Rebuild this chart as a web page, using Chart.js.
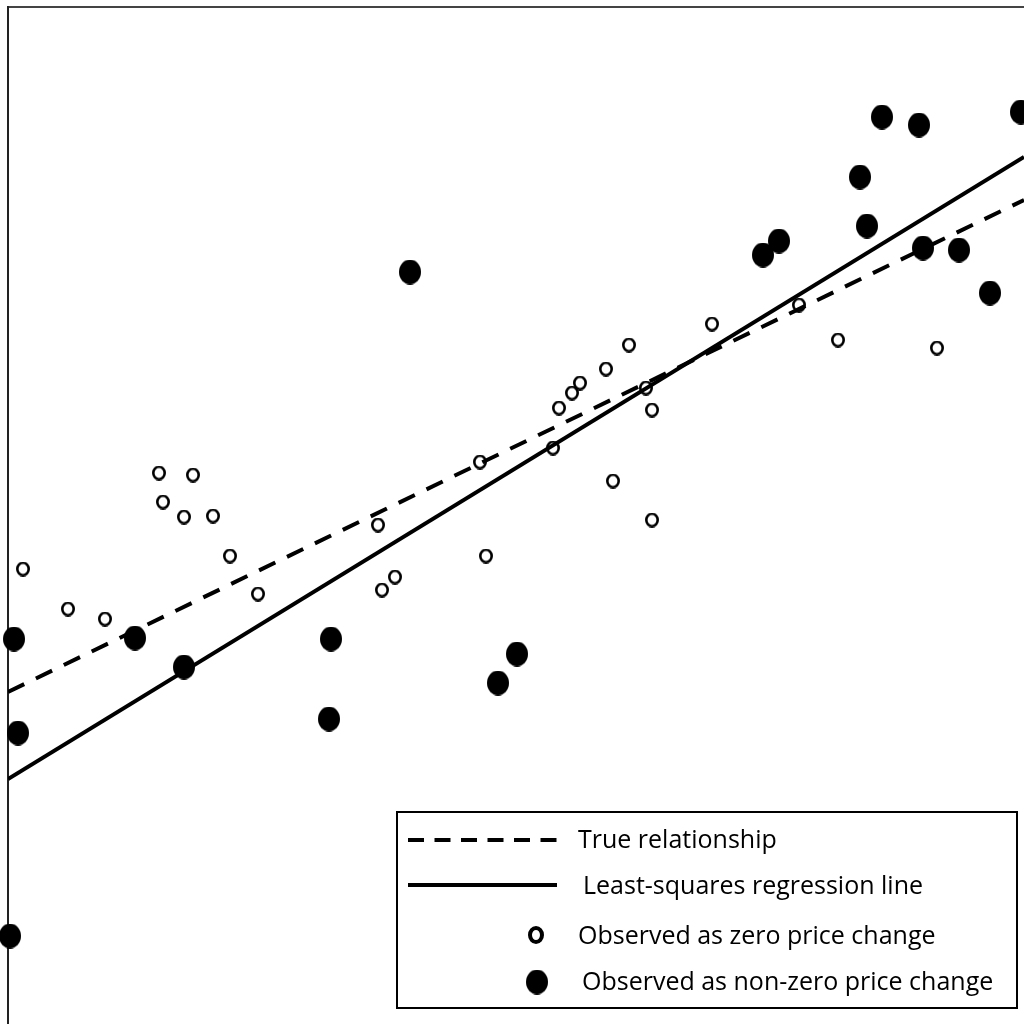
<!DOCTYPE html>
<html>
<head>
<meta charset="utf-8">
<script src="https://cdn.jsdelivr.net/npm/chart.js@4"></script>
<style>
  html, body { margin: 0; padding: 0; background: #fff; overflow: hidden; }
  canvas { display: block; }
</style>
</head>
<body>
<canvas id="chart" width="1024" height="1024"></canvas>
<script>
// Observed as zero price change (open circles)
const zeroX = [1.5, 6.0, 9.7, 22.2, 25.0, 15.1, 18.5, 15.5, 17.6, 20.5, 37.0, 37.4, 38.7, 47.2, 54.5,
  55.1, 56.4, 57.2, 59.8, 62.1, 63.8, 64.4, 60.5, 64.4, 47.8, 70.4, 79.1, 83.0, 92.9];
const zeroY = [45.5, 41.5, 40.5, 46.8, 43.0, 55.1, 54.9, 52.2, 50.7, 50.8, 49.9, 43.4, 44.7, 56.2, 57.6,
  61.6, 63.1, 64.1, 65.5, 67.9, 63.6, 61.4, 54.3, 50.4, 46.8, 70.0, 71.9, 68.4, 67.6];

// Observed as non-zero price change (filled circles)
const nonZeroX = [0.6, 1.0, 12.7, 17.6, 0.2, 32.3, 32.1, 50.9, 49.0, 40.2, 75.5, 77.1, 85.2, 85.9,
  87.4, 91.1, 91.5, 95.1, 98.2, 101.3];
const nonZeroY = [38.5, 29.1, 38.6, 35.7, 8.8, 38.5, 30.5, 37.0, 34.1, 75.2, 76.9, 78.3, 84.7, 79.8,
  90.7, 89.9, 77.6, 77.4, 73.1, 91.2];

// end points of the two lines
const lineX = [0, 101.6];
const trueY = [33.2, 82.4];
const fitY = [24.5, 86.7];

const seriesLabels = ['True relationship', 'Least-squares regression line',
  'Observed as zero price change', 'Observed as non-zero price change'];

function toPoints(xs, ys) {
  return xs.map((x, i) => ({ x: x, y: ys[i] }));
}

// small canvases used as point styles (the markers are slightly taller than wide)
function dotMarker(w, h) {
  const c = document.createElement('canvas');
  c.width = w; c.height = h;
  const g = c.getContext('2d');
  g.fillStyle = '#000';
  g.beginPath();
  g.ellipse(w / 2, h / 2, w / 2, h / 2, 0, 0, Math.PI * 2);
  g.fill();
  return c;
}

function ringMarker(w, h, lw) {
  const c = document.createElement('canvas');
  c.width = w; c.height = h;
  const g = c.getContext('2d');
  g.strokeStyle = '#000';
  g.fillStyle = '#fff';
  g.lineWidth = lw;
  g.beginPath();
  g.ellipse(w / 2, h / 2, (w - lw) / 2, (h - lw) / 2, 0, 0, Math.PI * 2);
  g.fill();
  g.stroke();
  return c;
}

const openDot = ringMarker(14, 15, 2.6);
const fullDot = dotMarker(22, 25);

// legend drawn inside a box in the lower right corner
const boxLegend = {
  id: 'boxLegend',
  afterDraw(chart) {
    const ctx = chart.ctx;
    const ds = chart.data.datasets;
    ctx.save();
    ctx.fillStyle = '#fff';
    ctx.fillRect(397, 812, 620, 196);
    ctx.strokeStyle = '#000';
    ctx.lineWidth = 2;
    ctx.strokeRect(397, 812, 620, 196);

    // line samples
    ctx.lineWidth = 4;
    ctx.setLineDash([16, 10.5]);
    ctx.beginPath();
    ctx.moveTo(408, 840);
    ctx.lineTo(557, 840);
    ctx.stroke();
    ctx.setLineDash([]);
    ctx.beginPath();
    ctx.moveTo(408, 885);
    ctx.lineTo(557, 885);
    ctx.stroke();

    // marker samples
    const ring = ringMarker(16, 18, 4);
    ctx.drawImage(ring, 536 - 8, 935 - 9);
    ctx.drawImage(fullDot, 537 - 11, 982 - 12.5);

    ctx.fillStyle = '#000';
    ctx.font = '25px "Open Sans"';
    ctx.textBaseline = 'middle';
    ctx.fillText(ds[0].label, 578, 841);
    ctx.fillText(ds[1].label, 583, 887);
    ctx.fillText(ds[2].label, 578, 937);
    ctx.fillText(ds[3].label, 582, 983);
    ctx.restore();
  }
};

new Chart(document.getElementById('chart'), {
  type: 'scatter',
  data: {
    datasets: [
      {
        label: seriesLabels[0],
        data: toPoints(lineX, trueY),
        showLine: true,
        borderColor: '#000',
        borderWidth: 4,
        borderDash: [18, 13],
        pointRadius: 0
      },
      {
        label: seriesLabels[1],
        data: toPoints(lineX, fitY),
        showLine: true,
        borderColor: '#000',
        borderWidth: 4,
        pointRadius: 0
      },
      {
        label: seriesLabels[2],
        data: toPoints(zeroX, zeroY),
        pointStyle: openDot,
        clip: false
      },
      {
        label: seriesLabels[3],
        data: toPoints(nonZeroX, nonZeroY),
        pointStyle: fullDot,
        clip: false
      }
    ]
  },
  options: {
    responsive: false,
    animation: false,
    layout: { autoPadding: false, padding: { left: 8, top: 7, right: 0, bottom: 0 } },
    plugins: {
      legend: { display: false },
      tooltip: { enabled: false }
    },
    scales: {
      x: {
        type: 'linear',
        position: 'top',
        min: 0,
        max: 101.6,
        ticks: { display: false },
        grid: { display: false, drawTicks: false },
        border: { display: true, color: '#444', width: 2 }
      },
      y: {
        type: 'linear',
        position: 'left',
        min: 0,
        max: 101.7,
        ticks: { display: false },
        grid: { display: false, drawTicks: false },
        border: { display: true, color: '#222', width: 2 }
      }
    }
  },
  plugins: [boxLegend]
});
</script>
</body>
</html>
